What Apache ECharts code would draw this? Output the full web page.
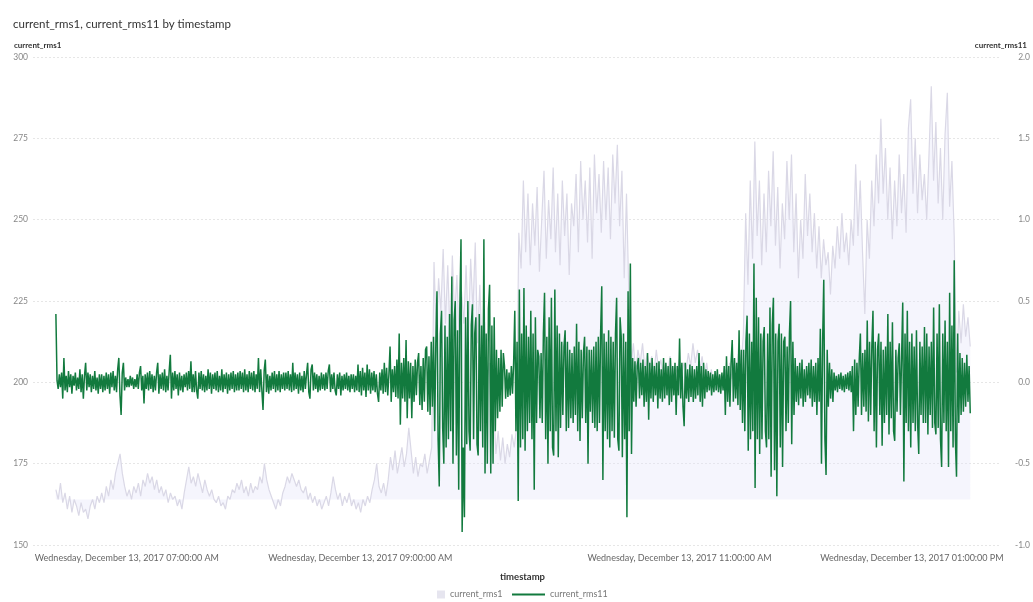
<!DOCTYPE html>
<html>
<head>
<meta charset="utf-8">
<script src="https://cdn.jsdelivr.net/npm/echarts@6/dist/echarts.min.js"></script>
<style>html,body{margin:0;padding:0;background:#fff}#c{width:1033px;height:602px}</style>
</head>
<body>
<div id="c"></div>
<script>
// current_rms1 (left axis), in time order
const rms1 = [
167,164,169,163,166,161,165,160,164,162,159,163,160,161,158,162,164,161,165,163,
166,163,168,165,170,167,172,175,178,172,168,165,167,164,168,166,169,165,170,168,
172,169,171,167,170,166,168,165,167,163,166,164,165,162,164,161,166,170,174,169,
171,168,172,169,166,170,167,165,167,164,163,165,162,163,161,165,164,167,166,169,
167,170,166,168,165,169,166,168,167,171,169,175,170,167,165,163,161,164,162,166,
168,171,169,172,170,168,170,167,166,168,164,166,163,165,162,164,161,163,165,162,
166,171,167,164,166,162,165,163,166,162,164,161,163,160,164,162,165,163,167,170,
175,168,166,169,165,170,177,173,179,172,176,180,174,178,186,179,172,177,171,175,
174,178,172,176,180,237,215,232,222,241,218,236,214,239,220,233,212,228,218,236,
215,238,222,243,212,230,208,222,200,206,188,194,178,185,176,183,175,181,177,184,
180,186,246,235,262,240,258,236,255,242,260,234,250,265,238,256,244,266,240,258,
236,262,245,258,233,255,248,264,240,268,250,262,243,266,238,270,252,264,246,268,
250,266,244,270,255,273,248,265,232,258,228,205,212,203,210,206,212,204,209,205,
208,203,210,204,207,202,206,203,208,201,205,203,207,202,206,204,209,205,212,206,
210,204,208,202,206,200,204,199,203,198,202,199,204,200,206,201,207,203,212,205,
215,252,230,262,238,274,245,262,236,258,240,265,248,271,242,260,235,255,244,268,
250,270,240,258,232,250,238,264,245,258,240,252,235,248,232,244,236,240,227,242,
235,248,238,252,240,246,236,250,242,267,245,262,240,221,250,238,262,248,270,255,
281,258,272,250,266,244,262,248,270,252,264,246,278,287,258,275,252,270,256,264,
250,270,291,262,280,255,272,250,276,289,254,268,245,203,222,212,224,214,220,211
];
// current_rms11 (right axis), in time order
const rms11 = [
0.42,0.01,-0.04,0.05,-0.03,0.06,-0.10,0.15,-0.05,0.04,-0.06,0.07,-0.03,0.05,-0.07,0.04,-0.02,0.06,-0.05,0.03,-0.04,0.08,-0.06,0.05,-0.10,0.04,0.12,-0.05,0.06,-0.03,0.05,-0.06,0.04,-0.04,0.07,-0.05,0.03,-0.07,0.05,-0.04,
0.05,-0.06,0.04,-0.05,0.06,-0.04,0.05,-0.07,0.06,-0.03,0.07,-0.05,0.04,-0.06,0.08,0.15,-0.08,-0.20,0.06,0.12,-0.05,0.03,-0.03,0.02,-0.03,0.04,-0.02,0.03,-0.04,0.02,-0.03,0.05,-0.04,0.06,0.10,-0.05,0.04,-0.13,0.05,-0.04,
0.06,-0.05,0.07,-0.04,0.05,-0.06,0.04,-0.05,0.06,0.12,-0.07,0.05,-0.04,0.06,-0.05,0.08,-0.06,0.04,-0.05,0.07,0.17,-0.10,0.06,-0.05,0.07,-0.04,0.05,-0.08,0.06,-0.05,0.04,-0.06,0.05,-0.03,0.06,-0.05,0.07,-0.04,0.13,-0.06,
0.05,-0.06,0.07,-0.05,-0.10,0.06,-0.04,0.07,-0.05,0.05,-0.06,0.04,-0.05,0.08,-0.04,0.06,-0.07,0.05,-0.04,0.06,-0.05,0.07,-0.06,0.04,-0.05,0.08,-0.06,0.05,-0.04,0.06,-0.07,0.05,-0.05,0.06,-0.04,0.07,-0.06,0.05,-0.05,0.06,
-0.05,0.07,-0.04,0.06,-0.06,0.08,-0.05,0.05,-0.06,0.07,-0.04,0.06,-0.05,0.07,-0.06,0.05,-0.04,0.15,-0.06,0.08,-0.05,-0.17,0.07,0.14,-0.06,0.05,-0.07,0.04,-0.05,0.06,-0.04,0.07,-0.06,0.05,-0.05,0.07,-0.06,0.05,-0.04,0.06,
-0.05,0.06,-0.04,0.07,-0.05,0.05,-0.06,0.12,-0.05,0.06,-0.04,0.05,-0.07,0.06,-0.05,0.04,-0.06,0.07,-0.04,0.05,0.12,-0.06,-0.10,0.08,0.11,-0.05,0.06,-0.04,0.05,-0.06,0.04,-0.05,0.06,-0.04,0.05,-0.05,0.06,-0.04,0.07,0.11,
-0.06,0.05,-0.04,0.06,-0.05,-0.08,0.05,-0.04,0.06,-0.08,0.04,-0.05,0.05,-0.04,0.06,-0.05,0.04,-0.06,0.05,-0.04,0.05,-0.06,0.04,-0.05,0.11,-0.06,0.07,-0.08,0.09,-0.05,0.06,-0.09,0.11,-0.05,0.08,-0.07,0.06,-0.05,0.07,-0.06,
0.05,-0.07,-0.12,0.06,-0.05,0.08,-0.07,0.12,-0.06,0.09,-0.08,0.05,0.22,-0.12,0.08,-0.06,0.10,-0.09,0.14,-0.10,0.30,-0.26,0.12,-0.10,0.15,-0.12,0.26,-0.22,0.13,-0.10,0.12,-0.22,0.10,-0.12,0.14,-0.08,0.12,0.18,-0.14,0.10,
-0.17,0.15,-0.12,0.20,0.22,-0.18,0.16,-0.20,0.25,-0.15,0.28,-0.30,0.24,0.56,-0.35,-0.64,0.30,0.44,-0.28,-0.50,0.35,-0.40,0.28,-0.35,0.42,-0.30,0.65,-0.50,0.38,0.50,-0.45,0.32,-0.66,0.45,0.88,-0.92,-0.40,-0.83,0.40,-0.38,
0.50,-0.30,-0.42,0.35,0.48,-0.35,0.30,0.40,-0.38,-0.45,0.42,-0.30,0.35,-0.40,0.88,-0.56,0.30,-0.50,0.45,0.60,-0.56,0.35,-0.50,0.40,-0.30,0.20,-0.22,0.15,-0.18,0.20,-0.15,0.18,0.10,-0.10,0.08,-0.09,0.06,-0.08,0.10,-0.07,
0.12,0.44,-0.30,0.25,-0.73,0.57,-0.40,0.30,-0.35,0.58,-0.42,0.35,-0.30,0.28,-0.25,0.44,-0.35,0.30,-0.66,0.40,-0.25,0.20,0.16,-0.22,0.18,-0.25,0.30,0.55,-0.35,0.28,-0.50,0.40,-0.30,0.52,-0.40,-0.45,0.57,-0.30,0.35,-0.46,
0.30,-0.28,0.25,-0.20,0.22,0.32,-0.30,0.25,-0.28,0.20,-0.22,0.18,-0.25,0.22,-0.20,0.36,-0.30,0.25,-0.36,0.20,-0.22,0.18,0.28,-0.25,0.22,-0.50,0.20,-0.18,0.20,-0.25,0.22,-0.28,0.25,-0.30,0.28,-0.25,0.30,0.59,-0.60,0.30,
-0.30,0.25,-0.35,0.32,-0.40,0.28,-0.30,0.25,-0.34,0.30,0.52,-0.35,-0.42,0.40,0.28,-0.46,0.30,-0.35,0.25,-0.83,0.56,-0.30,0.73,-0.44,0.15,-0.12,0.13,-0.15,0.10,0.15,-0.10,0.12,-0.08,0.14,-0.15,0.10,-0.12,0.18,-0.23,0.12,
-0.10,0.15,-0.12,0.10,-0.08,0.12,-0.16,0.13,-0.10,0.08,-0.12,0.15,-0.10,0.12,-0.08,0.10,-0.14,0.15,-0.12,0.10,-0.08,0.12,-0.20,0.10,-0.08,0.27,-0.10,0.12,-0.15,-0.27,0.12,-0.10,0.08,-0.12,0.11,-0.09,0.10,-0.12,0.08,-0.10,
0.10,-0.08,0.18,-0.12,0.10,-0.15,0.12,-0.10,0.08,-0.06,0.07,-0.05,0.06,-0.08,0.05,-0.06,0.07,-0.05,0.08,-0.06,0.05,-0.07,0.06,-0.05,0.10,-0.20,0.16,-0.12,0.10,-0.15,0.12,0.26,-0.12,0.15,-0.10,0.12,-0.14,0.32,-0.17,0.20,
-0.25,0.20,-0.30,0.25,0.41,-0.42,0.30,-0.35,0.25,-0.30,0.73,-0.65,0.52,-0.35,0.40,-0.44,0.30,-0.35,0.25,0.34,-0.30,-0.40,0.30,-0.35,0.46,-0.58,0.35,0.52,-0.54,0.30,-0.70,0.25,0.36,-0.40,0.30,-0.52,0.25,0.28,-0.30,0.22,
-0.25,0.30,0.50,-0.38,0.25,-0.20,0.15,-0.12,0.10,-0.14,0.12,-0.10,0.14,-0.15,0.08,-0.12,0.10,-0.08,0.12,-0.10,0.14,-0.15,0.10,-0.12,0.12,-0.20,0.15,-0.12,0.33,-0.50,0.25,0.63,-0.35,-0.57,0.20,-0.15,0.12,-0.10,0.08,-0.12,
0.06,-0.05,0.04,-0.06,0.05,-0.04,0.06,-0.05,0.04,-0.06,0.05,-0.04,0.06,-0.05,0.07,-0.06,0.10,-0.30,0.14,-0.20,0.12,-0.15,0.14,0.30,-0.20,0.18,-0.15,0.20,-0.18,0.38,-0.24,0.25,-0.20,0.22,0.44,-0.30,0.25,-0.40,0.20,0.30,
-0.20,0.25,-0.39,0.20,-0.25,0.22,-0.20,0.42,-0.32,0.25,-0.22,0.37,-0.30,-0.36,0.20,-0.18,0.15,0.24,-0.20,0.15,0.49,-0.61,0.30,-0.25,0.44,-0.30,0.25,-0.40,0.30,-0.25,0.22,-0.30,0.32,-0.25,-0.44,0.25,-0.20,0.22,-0.25,0.34,
-0.25,0.30,-0.32,0.22,-0.20,0.25,-0.28,0.46,-0.25,-0.32,0.30,-0.28,0.48,-0.35,-0.52,0.30,-0.25,0.38,-0.30,0.25,-0.52,0.55,-0.30,0.35,-0.40,0.75,-0.35,-0.58,0.30,-0.25,0.18,-0.20,0.15,-0.18,0.12,-0.15,0.17,-0.12,0.10,-0.19
];
// x tick labels and where each sits on the sample-position scale (0..799)
const tickLabels = [
  'Wednesday, December 13, 2017 07:00:00 AM',
  'Wednesday, December 13, 2017 09:00:00 AM',
  'Wednesday, December 13, 2017 11:00:00 AM',
  'Wednesday, December 13, 2017 01:00:00 PM'
];
const tickPos = [62, 266, 545, 748];
const seriesNames = ['current_rms1', 'current_rms11'];

const SPAN = 799; // both series cover the same time span
const toPairs = (arr) => arr.map((v, i) => [i * SPAN / (arr.length - 1), v]);

const FONT = 'Lato, "Open Sans", sans-serif';
const chart = echarts.init(document.getElementById('c'), null, {renderer: 'canvas'});
chart.setOption({
  backgroundColor: '#ffffff',
  animation: false,
  textStyle: {fontFamily: FONT},
  title: {
    text: 'current_rms1, current_rms11 by timestamp',
    left: 8, top: 13,
    textStyle: {fontSize: 11.5, fontWeight: 'normal', color: '#333', fontFamily: FONT}
  },
  legend: [
    {
      data: [{name: seriesNames[0], icon: 'rect'}],
      left: 437, top: 590, padding: 0, itemWidth: 8, itemHeight: 8,
      textStyle: {fontSize: 9, color: '#777', fontFamily: FONT},
      itemStyle: {color: '#e6e5ef'}
    },
    {
      data: [{name: seriesNames[1], icon: 'rect'}],
      left: 512, top: 590, padding: 0, itemWidth: 33, itemHeight: 2,
      textStyle: {fontSize: 9, color: '#777', fontFamily: FONT}
    }
  ],
  grid: {left: 33, right: 33, top: 57, bottom: 57, containLabel: false, outerBoundsMode: 'none'},
  xAxis: {
    type: 'value',
    min: -20, max: 825, interval: 5,
    name: 'timestamp',
    nameLocation: 'middle',
    nameGap: 27,
    nameTextStyle: {fontSize: 9.5, fontWeight: 'bold', color: '#333', padding: [0, 0, 0, 12]},
    axisLine: {show: false},
    axisTick: {show: false},
    splitLine: {show: false},
    axisLabel: {
      customValues: tickPos,
      formatter: function (v) {
        const k = tickPos.indexOf(v);
        return k >= 0 ? tickLabels[k] : '';
      },
      fontSize: 9, color: '#666', margin: 9, hideOverlap: false
    }
  },
  yAxis: [
    {
      type: 'value', min: 150, max: 300, interval: 25,
      name: seriesNames[0], nameLocation: 'end', nameGap: 8,
      nameTextStyle: {fontSize: 8, fontWeight: 'bold', color: '#333', align: 'left', padding: [0, 0, 0, -42]},
      axisLine: {show: false}, axisTick: {show: false},
      axisLabel: {fontSize: 8.5, color: '#888', margin: 5},
      splitLine: {show: true, lineStyle: {color: '#e6e6e6', type: [2, 2], width: 1}}
    },
    {
      type: 'value', min: -1, max: 2, interval: 0.5,
      name: seriesNames[1], nameLocation: 'end', nameGap: 8,
      nameTextStyle: {fontSize: 8, fontWeight: 'bold', color: '#333', align: 'right', padding: [0, -27, 0, 0]},
      axisLine: {show: false}, axisTick: {show: false},
      axisLabel: {fontSize: 8.5, color: '#888', margin: 30, align: 'right',
        formatter: function (v) { return v.toFixed(1); }},
      splitLine: {show: false}
    }
  ],
  series: [
    {
      name: seriesNames[0], type: 'line', yAxisIndex: 0,
      data: toPairs(rms1),
      showSymbol: false, sampling: null,
      lineStyle: {color: '#dad8e6', width: 1.2},
      itemStyle: {color: '#e6e5ef'},
      areaStyle: {color: 'rgba(228,230,250,0.55)', origin: 164},
      z: 1
    },
    {
      name: seriesNames[1], type: 'line', yAxisIndex: 1,
      data: toPairs(rms11),
      showSymbol: false, sampling: null,
      lineStyle: {color: '#127a3e', width: 1.5},
      itemStyle: {color: '#127a3e'},
      z: 3
    }
  ]
});
</script>
</body>
</html>
